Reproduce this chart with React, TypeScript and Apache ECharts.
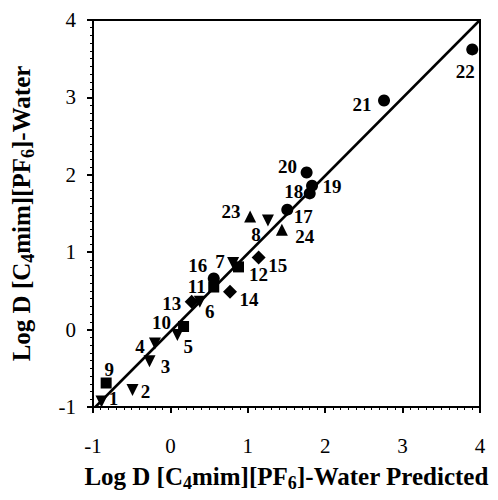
import React, { useEffect, useRef } from "react";
import * as echarts from "echarts";

const circleIds = [16, 17, 18, 19, 20, 21, 22];
const circleX = [0.56, 1.51, 1.8, 1.83, 1.76, 2.76, 3.9];
const circleY = [0.66, 1.55, 1.76, 1.86, 2.03, 2.96, 3.62];

const triDownIds = [1, 2, 3, 4, 5, 6, 7, 8];
const triDownX = [-0.89, -0.49, -0.27, -0.2, 0.09, 0.38, 0.81, 1.26];
const triDownY = [-0.93, -0.78, -0.41, -0.18, -0.07, 0.36, 0.86, 1.41];

const squareIds = [9, 10, 11, 12];
const squareX = [-0.83, 0.17, 0.56, 0.88];
const squareY = [-0.69, 0.04, 0.55, 0.81];

const diamondIds = [13, 14, 15];
const diamondX = [0.275, 0.77, 1.14];
const diamondY = [0.36, 0.49, 0.93];

const triUpIds = [23, 24];
const triUpX = [1.03, 1.44];
const triUpY = [1.46, 1.29];

const fitLine = [
  [-0.97, -1],
  [4, 4],
];

const xTicks = [-1, 0, 1, 2, 3, 4];
const yTicks = [-1, 0, 1, 2, 3, 4];

// label offsets (px) relative to marker centre
const labelOffset: Record<number, [number, number]> = {
  1: [12, -3],
  2: [13, 2],
  3: [16, 5],
  4: [-15, 3],
  5: [11, 11],
  6: [10, 10],
  7: [-13, -2],
  8: [-12, 14],
  9: [3, -14],
  10: [-22, -4],
  11: [-17, -1],
  12: [20, 8],
  13: [-20, 2],
  14: [19, 8],
  15: [19, 8],
  16: [-16, -13],
  17: [16, 7],
  18: [-16, -2],
  19: [20, 1],
  20: [-19, -6],
  21: [-22, 4],
  22: [-7, 22],
  23: [-19, -5],
  24: [23, 7],
};

const FONT = "Liberation Serif";

const pointLabel = {
  show: true,
  position: "inside",
  color: "#000",
  textBorderWidth: 0,
  fontFamily: FONT,
  fontWeight: "bold",
  fontSize: 19,
};

function buildData(ids: number[], xs: number[], ys: number[]) {
  return ids.map((id, i) => ({
    value: [xs[i], ys[i]],
    name: String(id),
    label: { ...pointLabel, offset: labelOffset[id], formatter: String(id) },
  }));
}

function scatter(
  ids: number[],
  xs: number[],
  ys: number[],
  symbol: string,
  size: number,
  rotate = 0
) {
  return {
    type: "scatter",
    symbol,
    symbolSize: size,
    symbolRotate: rotate,
    itemStyle: { color: "#000", opacity: 1 },
    label: pointLabel,
    emphasis: { disabled: true },
    data: buildData(ids, xs, ys),
    z: 3,
  };
}

export default function App() {
  const ref = useRef<HTMLDivElement>(null);
  useEffect(() => {
    if (!ref.current) return;
    const chart = echarts.init(ref.current, null, { renderer: "svg" });
    const titleRich = {
      sub: {
        fontSize: 18,
        fontFamily: FONT,
        fontWeight: "bold",
        color: "#000",
        padding: [13, 0, 0, 0],
      },
    };
    chart.setOption({
      animation: false,
      backgroundColor: "#fff",
      grid: {
        left: 93,
        top: 20,
        width: 387,
        height: 387,
        show: true,
        borderColor: "#000",
        borderWidth: 2,
        backgroundColor: "transparent",
      },
      xAxis: {
        type: "value",
        min: xTicks[0],
        max: xTicks[xTicks.length - 1],
        interval: 1,
        splitLine: { show: false },
        axisLine: { show: true, onZero: false, lineStyle: { color: "#000", width: 2 } },
        axisTick: { show: true, length: 6, lineStyle: { color: "#000", width: 2 } },
        minorTick: { show: true, splitNumber: 10, length: 3, lineStyle: { color: "#000", width: 1 } },
        axisLabel: { color: "#000", fontFamily: FONT, fontSize: 21, margin: 28 },
        name: "Log D [C{sub|4}mim][PF{sub|6}]-Water Predicted",
        nameLocation: "middle",
        nameGap: 54,
        nameTextStyle: {
          color: "#000",
          fontFamily: FONT,
          fontWeight: "bold",
          fontSize: 25,
          rich: titleRich,
        },
      },
      yAxis: {
        type: "value",
        min: yTicks[0],
        max: yTicks[yTicks.length - 1],
        interval: 1,
        splitLine: { show: false },
        axisLine: { show: true, onZero: false, lineStyle: { color: "#000", width: 2 } },
        axisTick: { show: true, length: 6, lineStyle: { color: "#000", width: 2 } },
        minorTick: { show: true, splitNumber: 10, length: 3, lineStyle: { color: "#000", width: 1 } },
        axisLabel: { color: "#000", fontFamily: FONT, fontSize: 21, margin: 17 },
        name: "Log D [C{sub|4}mim][PF{sub|6}]-Water",
        nameLocation: "middle",
        nameGap: 56,
        nameTextStyle: {
          color: "#000",
          fontFamily: FONT,
          fontWeight: "bold",
          fontSize: 25,
          rich: titleRich,
        },
      },
      series: [
        {
          type: "line",
          data: fitLine,
          symbol: "none",
          lineStyle: { color: "#000", width: 2.5 },
          emphasis: { disabled: true },
          z: 2,
        },
        scatter(circleIds, circleX, circleY, "circle", 12),
        scatter(triDownIds, triDownX, triDownY, "triangle", 12, 180),
        scatter(squareIds, squareX, squareY, "rect", 11),
        scatter(diamondIds, diamondX, diamondY, "diamond", 14),
        scatter(triUpIds, triUpX, triUpY, "triangle", 12),
      ],
    });
    return () => chart.dispose();
  }, []);
  return <div ref={ref} style={{ width: 498, height: 500, position: "absolute", left: 0, top: 0 }} />;
}
